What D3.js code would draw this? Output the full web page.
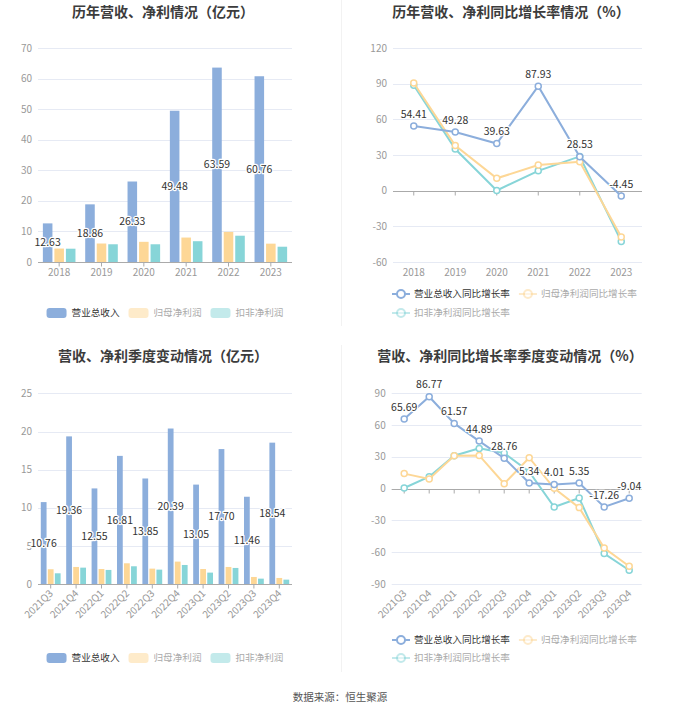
<!DOCTYPE html>
<html>
<head>
<meta charset="utf-8">
<script src="https://cdn.jsdelivr.net/npm/d3@7"></script>
<style>
  body { margin: 0; background: #fff; }
  svg { display: block; font-family: "Noto Sans CJK SC", "Noto Sans", sans-serif; }
</style>
</head>
<body>
<div id="chart"></div>
<script>
// yearly data
const years = ["2018", "2019", "2020", "2021", "2022", "2023"];
const yearRevenue = [12.63, 18.86, 26.33, 49.48, 63.59, 60.76];
const yearNetProfit = [4.4, 6.05, 6.6, 8.0, 9.85, 6.0];
const yearDeductProfit = [4.35, 5.8, 5.8, 6.8, 8.6, 5.0];

const yearRevenueGrowth = [54.41, 49.28, 39.63, 87.93, 28.53, -4.45];
const yearNetGrowth = [90.6, 38.0, 10.4, 21.5, 24.3, -39.0];
const yearDeductGrowth = [88.7, 35.0, 0.2, 16.7, 28.8, -42.7];

// quarterly data
const quarters = ["2021Q3", "2021Q4", "2022Q1", "2022Q2", "2022Q3", "2022Q4", "2023Q1", "2023Q2", "2023Q3", "2023Q4"];
const qRevenue = [10.76, 19.36, 12.55, 16.81, 13.85, 20.39, 13.05, 17.70, 11.46, 18.54];
const qNetProfit = [1.97, 2.27, 2.0, 2.75, 2.05, 2.97, 2.0, 2.27, 0.96, 0.83];
const qDeductProfit = [1.44, 2.18, 1.88, 2.36, 1.92, 2.53, 1.53, 2.14, 0.74, 0.61];

const qRevenueGrowth = [65.69, 86.77, 61.57, 44.89, 28.76, 5.34, 4.01, 5.35, -17.26, -9.04];
const qNetGrowth = [14.2, 9.1, 31.1, 31.4, 4.7, 29.2, 0.3, -17.9, -56.0, -73.3];
const qDeductGrowth = [0.6, 11.3, 31.1, 38.0, 33.6, 16.0, -17.3, -8.8, -61.3, -77.0];

const yearTicks = [0, 10, 20, 30, 40, 50, 60, 70];
const yearGrowthTicks = [-60, -30, 0, 30, 60, 90, 120];
const qTicks = [0, 5, 10, 15, 20, 25];
const qGrowthTicks = [-90, -60, -30, 0, 30, 60, 90];

const barNames = ["营业总收入", "归母净利润", "扣非净利润"];
const lineNames = ["营业总收入同比增长率", "归母净利润同比增长率", "扣非净利润同比增长率"];
const colors = ["#8caedc", "#fdd796", "#87d5d8"];

const W = 680, H = 712;
const svg = d3.select("#chart").append("svg")
    .attr("width", W)
    .attr("height", H);

// faint panel separators
svg.append("line").attr("x1", 341.5).attr("x2", 341.5).attr("y1", 0).attr("y2", 326)
    .attr("stroke", "#f2f2f2");
svg.append("line").attr("x1", 341.5).attr("x2", 341.5).attr("y1", 345).attr("y2", 672)
    .attr("stroke", "#f2f2f2");

function title(text, cx, y) {
    svg.append("text")
        .attr("x", cx).attr("y", y)
        .attr("text-anchor", "middle")
        .attr("font-size", 14).attr("font-weight", "bold")
        .attr("fill", "#3c3c3c")
        .text(text);
}

function yAxis(g, y, ticks, x0, x1) {
    g.append("g")
        .selectAll("line")
        .data(ticks)
        .enter().append("line")
        .attr("x1", x0).attr("x2", x1)
        .attr("y1", d => Math.round(y(d)) + 0.5).attr("y2", d => Math.round(y(d)) + 0.5)
        .attr("stroke", "#e6eaf4");
    g.append("g")
        .selectAll("text")
        .data(ticks)
        .enter().append("text")
        .attr("x", x0 - 6).attr("y", d => y(d))
        .attr("dy", "0.35em")
        .attr("text-anchor", "end")
        .attr("font-size", 10).attr("fill", "#999")
        .text(d => d);
}

function xAxis(g, x, yPos, labelY, rotate) {
    const axis = g.append("g").attr("transform", "translate(0," + (Math.round(yPos) + 0.5) + ")");
    const [r0, r1] = x.range();
    axis.append("line").attr("x1", r0).attr("x2", r1).attr("stroke", "#aaa").attr("stroke-width", 1.2);
    axis.selectAll(".tick")
        .data(x.domain())
        .enter().append("line")
        .attr("x1", d => x(d) + x.bandwidth() / 2).attr("x2", d => x(d) + x.bandwidth() / 2)
        .attr("y1", 0).attr("y2", 4)
        .attr("stroke", "#aaa");
    const labels = g.append("g").selectAll("text")
        .data(x.domain())
        .enter().append("text")
        .attr("font-size", 10).attr("fill", "#999")
        .text(d => d);
    if (rotate) {
        labels.attr("text-anchor", "end")
            .attr("transform", d => "translate(" + (x(d) + x.bandwidth() / 2 + 3) + "," + (labelY) + ") rotate(-45)");
    } else {
        labels.attr("text-anchor", "middle")
            .attr("x", d => x(d) + x.bandwidth() / 2)
            .attr("y", labelY);
    }
}

function haloText(g, x, y, text) {
    g.append("text")
        .attr("x", x).attr("y", y)
        .attr("text-anchor", "middle")
        .attr("dy", "0.35em")
        .attr("font-size", 10.5)
        .attr("fill", "#333")
        .attr("stroke", "#fff").attr("stroke-width", 2.5)
        .attr("paint-order", "stroke")
        .attr("stroke-linejoin", "round")
        .text(text);
}

function legend(items, type, left, top, maxRight, rowGap, center) {
    const g = svg.append("g");
    let cx = left, cy = top;
    const made = [];
    const textX = type === "bar" ? 25 : 22;
    items.forEach((name, i) => {
        const item = g.append("g");
        const faded = i > 0;
        if (type === "bar") {
            item.append("rect")
                .attr("x", 0).attr("y", -5).attr("width", 20).attr("height", 10)
                .attr("rx", 3)
                .attr("fill", colors[i])
                .attr("opacity", faded ? 0.5 : 1);
        } else {
            item.append("line")
                .attr("x1", 0).attr("x2", 18).attr("y1", 0).attr("y2", 0)
                .attr("stroke", colors[i]).attr("stroke-width", 2)
                .attr("opacity", faded ? 0.5 : 1);
            item.append("circle")
                .attr("cx", 9).attr("cy", 0).attr("r", 4)
                .attr("fill", "#fff")
                .attr("stroke", colors[i]).attr("stroke-width", 2)
                .attr("opacity", faded ? 0.5 : 1);
        }
        const t = item.append("text")
            .attr("x", textX).attr("dy", "0.35em")
            .attr("font-size", 9.6)
            .attr("fill", faded ? "#aaa" : "#333")
            .text(name);
        const w = textX + t.node().getComputedTextLength();
        if (cx + w > maxRight && cx > left) {
            cx = left;
            cy += rowGap;
        }
        item.attr("transform", "translate(" + cx + "," + cy + ")");
        made.push(w);
        cx += w + 9;
    });
    if (center !== undefined) {
        const total = d3.sum(made) + 9 * (made.length - 1);
        g.attr("transform", "translate(" + (center - total / 2 - left) + ",0)");
    }
}

function barPanel(opt) {
    const g = svg.append("g");
    const x = d3.scaleBand().domain(opt.cats).range([opt.x0, opt.x1]);
    const y = d3.scaleLinear().domain([0, opt.max]).range([opt.yBot, opt.yTop]);
    yAxis(g, y, opt.ticks, opt.x0, opt.x1);

    const groupW = x.bandwidth() * opt.fill;
    const inner = d3.scaleBand().domain([0, 1, 2]).range([0, groupW]).paddingInner(opt.pad);
    const off = (x.bandwidth() - groupW) / 2;

    opt.series.forEach((vals, si) => {
        g.append("g").selectAll("rect")
            .data(vals)
            .enter().append("rect")
            .attr("x", (d, i) => x(opt.cats[i]) + off + inner(si))
            .attr("y", d => y(d))
            .attr("width", inner.bandwidth())
            .attr("height", d => y(0) - y(d))
            .attr("fill", colors[si]);
    });

    xAxis(g, x, opt.yBot, opt.labelY, opt.rotate);

    opt.series[0].forEach((v, i) => {
        haloText(g, x(opt.cats[i]) + off + inner(0) + inner.bandwidth() / 2, (y(v) + y(0)) / 2, v.toFixed(2));
    });
}

function linePanel(opt) {
    const g = svg.append("g");
    const x = d3.scaleBand().domain(opt.cats).range([opt.x0, opt.x1]);
    const y = d3.scaleLinear().domain([opt.min, opt.max]).range([opt.yBot, opt.yTop]);
    yAxis(g, y, opt.ticks, opt.x0, opt.x1);
    xAxis(g, x, y(0), opt.labelY, opt.rotate);

    const line = d3.line()
        .x((d, i) => x(opt.cats[i]) + x.bandwidth() / 2)
        .y(d => y(d));

    // draw so that revenue ends up on top
    [2, 1, 0].forEach(si => {
        const vals = opt.series[si];
        g.append("path")
            .attr("d", line(vals))
            .attr("fill", "none")
            .attr("stroke", colors[si])
            .attr("stroke-width", 2);
        g.append("g").selectAll("circle")
            .data(vals)
            .enter().append("circle")
            .attr("cx", (d, i) => x(opt.cats[i]) + x.bandwidth() / 2)
            .attr("cy", d => y(d))
            .attr("r", 3)
            .attr("fill", "#fff")
            .attr("stroke", colors[si])
            .attr("stroke-width", 1.5);
    });

    opt.series[0].forEach((v, i) => {
        haloText(g, x(opt.cats[i]) + x.bandwidth() / 2, y(v) - 12, v.toFixed(2));
    });
}

// panel 1: yearly revenue & profit
title("历年营收、净利情况（亿元）", 163, 17);
barPanel({
    cats: years, series: [yearRevenue, yearNetProfit, yearDeductProfit],
    x0: 38, x1: 292, yTop: 48, yBot: 262, max: 70, ticks: yearTicks,
    fill: 0.77, pad: 0.17, labelY: 276, rotate: false
});
legend(barNames, "bar", 49, 313, 330, 18, 165);

// panel 2: yearly growth
title("历年营收、净利同比增长率情况（%）", 511, 17);
linePanel({
    cats: years, series: [yearRevenueGrowth, yearNetGrowth, yearDeductGrowth],
    x0: 393, x1: 642, yTop: 48, yBot: 262, min: -60, max: 120, ticks: yearGrowthTicks,
    labelY: 276, rotate: false
});
legend(lineNames, "line", 392, 294, 660, 19);

// panel 3: quarterly revenue & profit
title("营收、净利季度变动情况（亿元）", 163, 361);
barPanel({
    cats: quarters, series: [qRevenue, qNetProfit, qDeductProfit],
    x0: 38, x1: 292, yTop: 393.3, yBot: 584.3, max: 25, ticks: qTicks,
    fill: 0.78, pad: 0.18, labelY: 594, rotate: true
});
legend(barNames, "bar", 49, 658, 330, 18, 165);

// panel 4: quarterly growth
title("营收、净利同比增长率季度变动情况（%）", 510, 361);
linePanel({
    cats: quarters, series: [qRevenueGrowth, qNetGrowth, qDeductGrowth],
    x0: 391.7, x1: 641.7, yTop: 393.3, yBot: 584, min: -90, max: 90, ticks: qGrowthTicks,
    labelY: 594, rotate: true
});
legend(lineNames, "line", 392, 640, 660, 18);

// source note
svg.append("text")
    .attr("x", 340).attr("y", 697)
    .attr("text-anchor", "middle")
    .attr("dy", "0.35em")
    .attr("font-size", 10.5)
    .attr("fill", "#555")
    .text("数据来源：恒生聚源");
</script>
</body>
</html>
